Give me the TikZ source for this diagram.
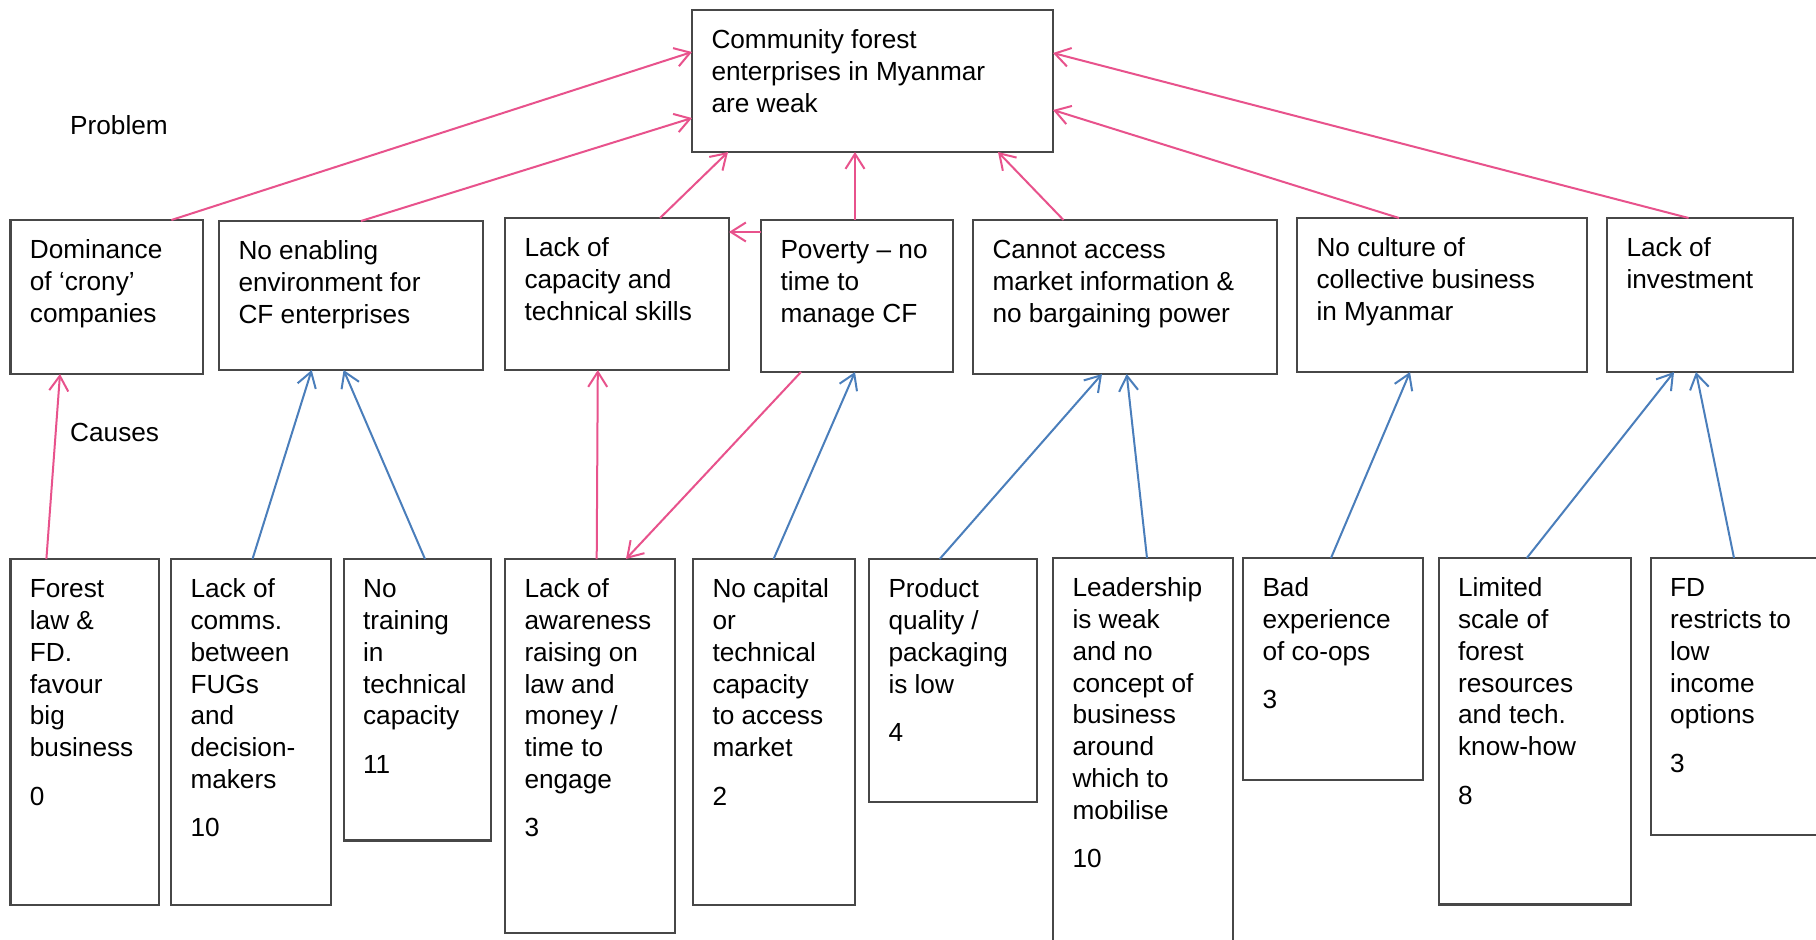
\documentclass[tikz,border=0pt]{standalone}
\usepackage{fontspec}
\setmainfont{Liberation Sans}
\usetikzlibrary{arrows.meta,calc}
\definecolor{cfpink}{HTML}{E8528C}
\definecolor{cfblue}{HTML}{4A7EBB}
\definecolor{cfgray}{HTML}{474747}
\tikzset{
  boxst/.style={draw=cfgray, line width=2.2pt, fill=none, inner sep=0pt, outer sep=0pt},
  txtst/.style={inner sep=0pt, outer sep=0pt, align=left, font=\fontsize{26.2}{31.8}\selectfont, text=black},
  lbl/.style={inner sep=0pt, anchor=west, font=\fontsize{26.2}{31.8}\selectfont},
  pinkarr/.style={draw=cfpink, line width=2pt, -{Straight Barb[length=15pt,width=19pt,line width=2pt]}},
  bluearr/.style={draw=cfblue, line width=2pt, -{Straight Barb[length=15pt,width=19pt,line width=2pt]}}
}
\newcommand\mkbox[6]{%
  \node[boxst, minimum width=#4pt, minimum height=#5pt, anchor=north west] (#1) at (#2,#3) {};
  \node[txtst, anchor=north west] (#1t) at ($(#1.north west)+(19.5,16.5)$) {\strut #6};
}
\begin{document}
\begin{tikzpicture}[x=1pt,y=-1pt]
\fill[white] (0,0) rectangle (1816,940);
\useasboundingbox (0,0) rectangle (1816,940);

% problem
\mkbox{top}{692}{10}{361}{142}{Community forest\\enterprises in Myanmar\\are weak}

% direct causes
\mkbox{dom}{10.4}{220}{192.6}{154}{Dominance\\of ‘crony’\\companies}
\mkbox{ena}{219}{221}{264}{149}{No enabling\\environment for\\CF enterprises}
\mkbox{cap}{505}{218}{224}{152}{Lack of\\capacity and\\technical skills}
\mkbox{pov}{761}{220}{191.6}{152}{Poverty – no\\time to\\manage CF}
\mkbox{can}{973}{220}{304}{154}{Cannot access\\market information \&\\no bargaining power}
\mkbox{cul}{1297}{218}{290}{154}{No culture of\\collective business\\in Myanmar}
\mkbox{inv}{1607}{218}{186}{154}{Lack of\\investment}

% root causes
\mkbox{for}{10.4}{559}{148.6}{346}{Forest\\law \&\\FD.\\favour\\big\\business\\[16.5pt]0}
\mkbox{com}{171}{559}{160}{346}{Lack of\\comms.\\between\\FUGs\\and\\decision-\\makers\\[16.5pt]10}
\mkbox{trn}{343.6}{559}{147.4}{281.5}{No\\training\\in\\technical\\capacity\\[16.5pt]11}
\mkbox{awa}{505}{559}{170}{373.6}{Lack of\\awareness\\raising on\\law and\\money /\\time to\\engage\\[16.5pt]3}
\mkbox{capt}{693}{559}{162}{346}{No capital\\or\\technical\\capacity\\to access\\market\\[16.5pt]2}
\mkbox{prd}{869}{559}{168}{242.7}{Product\\quality /\\packaging\\is low\\[16.5pt]4}
\mkbox{ldr}{1053}{558}{180}{400}{Leadership\\is weak\\and no\\concept of\\business\\around\\which to\\mobilise\\[16.5pt]10}
\mkbox{bad}{1243}{558}{180}{222}{Bad\\experience\\of co-ops\\[16.5pt]3}
\mkbox{lim}{1438.6}{558}{192.1}{346.5}{Limited\\scale of\\forest\\resources\\and tech.\\know-how\\[16.5pt]8}
\mkbox{fd}{1650.7}{558}{200}{277}{FD\\restricts to\\low\\income\\options\\[16.5pt]3}

% labels
\node[lbl] (problem) at (70,125) {Problem};
\node[lbl] (causes) at (70,432) {Causes};

% direct causes -> problem
\draw[pinkarr] ($(dom.north west)+(161,0)$) -- ($(top.north west)+(0,42)$);
\draw[pinkarr] ($(ena.north west)+(142,0)$) -- ($(top.north west)+(0,108)$);
\draw[pinkarr] ($(cap.north west)+(155,0)$) -- ($(top.south west)+(36,0)$);
\draw[pinkarr] ($(pov.north west)+(94,0)$) -- ($(top.south west)+(163,0)$);
\draw[pinkarr] ($(can.north west)+(90.5,0)$) -- ($(top.south west)+(306,0)$);
\draw[pinkarr] ($(cul.north west)+(102,0)$) -- ($(top.north east)+(0,100)$);
\draw[pinkarr] ($(inv.north west)+(81.6,0)$) -- ($(top.north east)+(0,43)$);
\draw[pinkarr] ($(pov.north west)+(0,12)$) coordinate (p8) -- (p8 -| cap.east);

% root causes -> direct causes
\draw[pinkarr] ($(for.north west)+(36,0)$) -- ($(dom.south west)+(49.6,0)$);
\draw[bluearr] ($(com.north west)+(81.5,0)$) -- ($(ena.south west)+(92.7,0)$);
\draw[bluearr] ($(trn.north west)+(81.4,0)$) -- ($(ena.south west)+(124.6,0)$);
\draw[pinkarr] ($(awa.north west)+(91.7,0)$) -- ($(cap.south west)+(92.8,0)$);
\draw[pinkarr] ($(pov.south west)+(40,0)$) -- ($(awa.north west)+(121,0)$);
\draw[bluearr] ($(capt.north west)+(80.6,0)$) -- ($(pov.south west)+(94,0)$);
\draw[bluearr] ($(prd.north west)+(70.7,0)$) -- ($(can.south west)+(129,0)$);
\draw[bluearr] ($(ldr.north west)+(94,0)$) -- ($(can.south west)+(153.7,0)$);
\draw[bluearr] ($(bad.north west)+(88,0)$) -- ($(cul.south west)+(113,0)$);
\draw[bluearr] ($(lim.north west)+(88.2,0)$) -- ($(inv.south west)+(67,0)$);
\draw[bluearr] ($(fd.north west)+(83.3,0)$) -- ($(inv.south west)+(89,0)$);
\end{tikzpicture}
\end{document}
